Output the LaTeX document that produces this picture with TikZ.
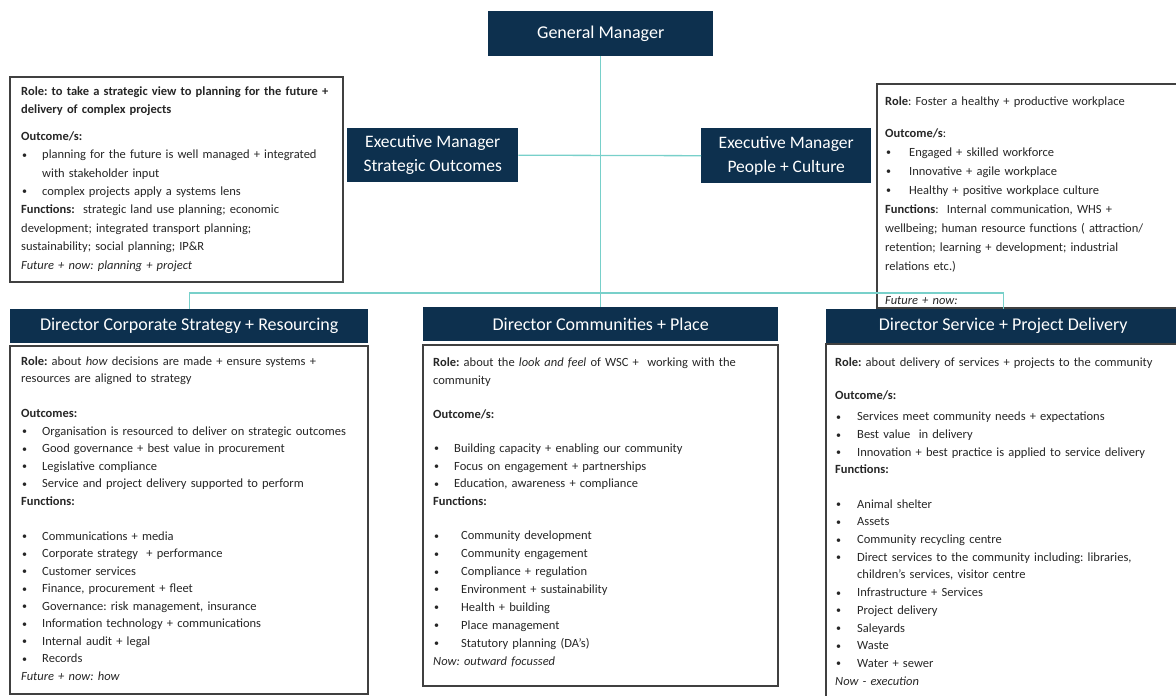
\documentclass[tikz,border=0pt]{standalone}
\usepackage{fontspec}
\setmainfont{Carlito}
\usepackage{xcolor}
\definecolor{navy}{RGB}{13,48,78}
\definecolor{aqua}{RGB}{120,208,202}
\setlength{\parskip}{0pt}
\frenchspacing
\newlength{\bhang}
\setlength{\bhang}{21pt}
\newcommand{\bul}[1]{\par\hangindent=\bhang\hangafter=1\noindent\makebox[\bhang][l]{\hspace{1pt}\raisebox{0.5pt}{\fontsize{10}{10}\selectfont\textbullet}}#1\par}
\newcommand{\gap}[1]{\par\vspace{#1}}

\tikzset{
  head/.style={fill=navy, text=white, inner sep=0pt, anchor=north west, align=center,
    font=\fontsize{18}{22}\selectfont},
  frame/.style={draw=black!75, line width=1.1pt},
  body/.style={anchor=north west, inner sep=0pt, align=left, text=black!85},
  link/.style={draw=aqua, line width=1.3pt}
}

\begin{document}
\begin{tikzpicture}[x=1pt, y=1pt, yscale=-1, xscale=1]
\useasboundingbox (0,0) rectangle (1176,696);
\clip (0,0) rectangle (1176,696);
%Frames
\draw [frame](10,77) rectangle (343,282);
\draw [frame](877,84) rectangle (1190,308);
\draw [frame](10,346) rectangle (368,694);
\draw [frame](423,345) rectangle (778,686);
\draw [frame](826,344) rectangle (1190,705);
%Heads
\node [head, minimum width=225, minimum height=45] (gm) at (488,11) {General Manager};
\node [head, minimum width=171, minimum height=54, font=\fontsize{17.5}{23.5}\selectfont] (eso) at (347,128) {Executive Manager\\Strategic Outcomes};
\node [head, minimum width=170, minimum height=55, font=\fontsize{17.5}{23.5}\selectfont] (epc) at (701,128) {Executive Manager\\People + Culture};
\node [head, minimum width=358, minimum height=34] (dcs) at (10,309) {Director Corporate Strategy + Resourcing};
\node [head, minimum width=355, minimum height=34] (dcp) at (423,307) {Director Communities + Place};
\node [head, minimum width=354, minimum height=34] (dsp) at (826,309) {Director Service + Project Delivery};
%Links
\coordinate (bar) at (600,293);
\draw [link](gm.south) -- (dcp.north);
\draw [link](eso.east) -- (epc.west);
\draw [link](dcs.north) |- (bar) -| (dsp.north);
%Text
\node [body, text width=322, font=\fontsize{12.5}{18.4}\selectfont] (so) at (21,86.5) {%
\textbf{Role: to take a strategic view to planning for the future +\newline delivery of complex projects}\gap{8pt}
\textbf{Outcome/s:}
\bul{planning for the future is well managed + integrated\newline with stakeholder input}
\bul{complex projects apply a systems lens}
\textbf{Functions:}\ \ strategic land use planning; economic\newline development; integrated transport planning;\newline sustainability; social planning; IP\&R\par
\textit{Future + now: planning + project}};
\node [body, text width=300, font=\fontsize{12.5}{19}\selectfont] (pc) at (885,96.5) {\setlength{\bhang}{24pt}%
\textbf{Role}: Foster a healthy + productive workplace\gap{13pt}
\textbf{Outcome/s}:
\bul{Engaged + skilled workforce}
\bul{Innovative + agile workplace}
\bul{Healthy + positive workplace culture}
\textbf{Functions}:\ \ Internal communication, WHS +\newline wellbeing; human resource functions ( attraction/\newline retention; learning + development; industrial\newline relations etc.)\gap{15pt}
\textit{Future + now:}};
\node [body, text width=345, font=\fontsize{12.5}{17.5}\selectfont] (cs) at (21,356.5) {%
\textbf{Role:} about \textit{how} decisions are made + ensure systems +\newline resources are aligned to strategy\gap{17.5pt}
\textbf{Outcomes:}
\bul{Organisation is resourced to deliver on strategic outcomes}
\bul{Good governance + best value in procurement}
\bul{Legislative compliance}
\bul{Service and project delivery supported to perform}
\textbf{Functions:}\gap{17.5pt}
\bul{Communications + media}
\bul{Corporate strategy\ \ + performance}
\bul{Customer services}
\bul{Finance, procurement + fleet}
\bul{Governance: risk management, insurance}
\bul{Information technology + communications}
\bul{Internal audit + legal}
\bul{Records}
\textit{Future + now: how}};
\node [body, text width=340, font=\fontsize{12.5}{17.9}\selectfont] (cp) at (433,357.5) {%
\textbf{Role:} about the \textit{look and feel} of WSC +\ \ working with the\newline community\gap{16pt}
\textbf{Outcome/s:}\gap{16pt}
\bul{Building capacity + enabling our community}
\bul{Focus on engagement + partnerships}
\bul{Education, awareness + compliance}
\textbf{Functions:}\gap{16pt}
{\setlength{\bhang}{28pt}%
\bul{Community development}
\bul{Community engagement}
\bul{Compliance + regulation}
\bul{Environment + sustainability}
\bul{Health + building}
\bul{Place management}
\bul{Statutory planning (DA's)}}
\textit{Now: outward focussed}};
\node [body, text width=340, font=\fontsize{12.5}{17.7}\selectfont] (sp) at (835,357.5) {\setlength{\bhang}{22pt}%
\textbf{Role:} about delivery of services + projects to the community\gap{15pt}
\textbf{Outcome/s:}\gap{4pt}
\bul{Services meet community needs + expectations}
\bul{Best value\ \ in delivery}
\bul{Innovation + best practice is applied to service delivery}
\textbf{Functions:}\gap{16.5pt}
\bul{Animal shelter}
\bul{Assets}
\bul{Community recycling centre}
\bul{Direct services to the community including: libraries,\newline children's services, visitor centre}
\bul{Infrastructure + Services}
\bul{Project delivery}
\bul{Saleyards}
\bul{Waste}
\bul{Water + sewer}
\textit{Now - execution}};
\end{tikzpicture}
\end{document}
